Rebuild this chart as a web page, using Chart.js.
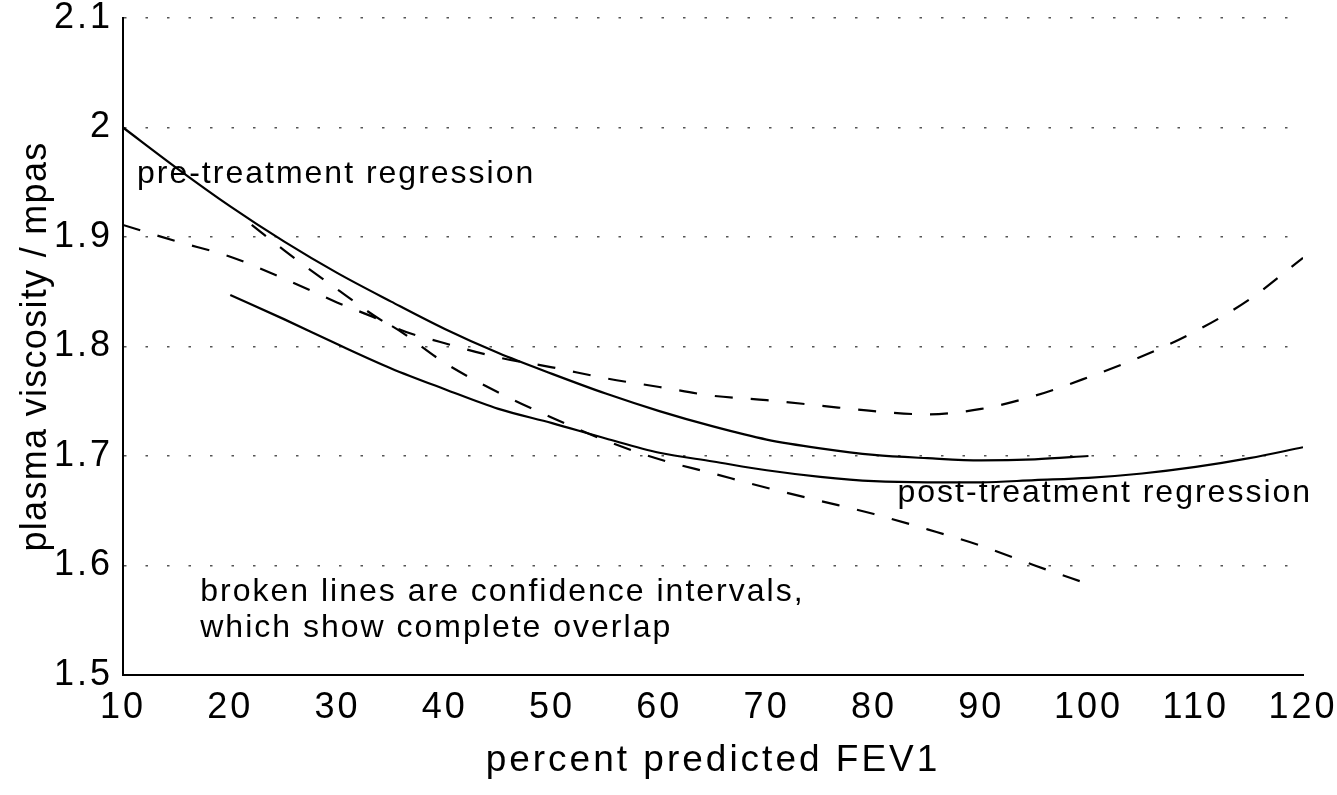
<!DOCTYPE html>
<html>
<head>
<meta charset="utf-8">
<script src="https://cdn.jsdelivr.net/npm/chart.js@4"></script>
<style>
  html, body { margin: 0; padding: 0; background: #fff; }
  #wrap { width: 1337px; height: 795px; position: relative; }
</style>
</head>
<body>
<div id="wrap"><canvas id="chart"></canvas></div>
<script>
// pre-treatment regression (solid) and its lower confidence limit (dashed)
const preX = [10, 15, 20, 25, 30, 35, 40, 45, 50, 55, 60, 65, 70, 75, 80, 85, 90, 95, 100];
const preY = [2.000, 1.963, 1.928, 1.896, 1.867, 1.841, 1.816, 1.794, 1.775, 1.757, 1.741, 1.727, 1.715, 1.707, 1.701, 1.698, 1.696, 1.697, 1.700];
const preLowY = [1.911, 1.896, 1.882, 1.862, 1.840, 1.819, 1.785, 1.758, 1.735, 1.714, 1.697, 1.684, 1.671, 1.659, 1.647, 1.633, 1.618, 1.600, 1.583];

// post-treatment regression (solid) and its upper confidence limit (dashed)
const postX = [20, 25, 30, 35, 40, 45, 50, 55, 60, 65, 70, 75, 80, 85, 90, 95, 100, 105, 110, 115, 120];
const postY = [1.847, 1.825, 1.802, 1.780, 1.761, 1.743, 1.730, 1.716, 1.703, 1.695, 1.687, 1.681, 1.677, 1.676, 1.676, 1.678, 1.680, 1.684, 1.690, 1.698, 1.708];
const postHighX = [22, 25, 30, 35, 40, 45, 50, 55, 60, 65, 70, 75, 80, 85, 90, 95, 100, 105, 110, 115, 120];
const postHighY = [1.911, 1.888, 1.852, 1.819, 1.803, 1.790, 1.781, 1.771, 1.763, 1.755, 1.751, 1.746, 1.741, 1.738, 1.743, 1.755, 1.772, 1.791, 1.814, 1.843, 1.881];

const xTicks = [10, 20, 30, 40, 50, 60, 70, 80, 90, 100, 110, 120];
const yTicks = [1.5, 1.6, 1.7, 1.8, 1.9, 2.0, 2.1];

const yTitle = 'plasma viscosity / mpas';

// text notes placed in data units
const notes = [
  {text: 'pre-treatment regression', x: 11.3, y: 1.957},
  {text: 'post-treatment regression', x: 82.2, y: 1.666},
  {text: 'broken lines are confidence intervals,', x: 17.2, y: 1.576},
  {text: 'which show complete overlap', x: 17.2, y: 1.543}
];

const pts = (xs, ys) => xs.map((x, i) => ({x: x, y: ys[i]}));
const FONT = '"Liberation Sans", Arial, Helvetica, sans-serif';

const line = (label, data, dash) => ({
  label: label,
  data: data,
  borderColor: '#000',
  borderWidth: 2.2,
  borderDash: dash,
  pointRadius: 0,
  fill: false,
  cubicInterpolationMode: 'monotone'
});

// wider tracking for tick labels and the x title
const spacing = {
  id: 'spacing',
  beforeDraw(chart) { chart.ctx.letterSpacing = '3px'; }
};

const textPlugin = {
  id: 'notes',
  afterDatasetsDraw(chart) {
    const {ctx, chartArea, scales: {x, y}} = chart;
    ctx.save();
    ctx.letterSpacing = '2px';
    ctx.font = '32px ' + FONT;
    ctx.fillStyle = '#000';
    ctx.textAlign = 'left';
    ctx.textBaseline = 'middle';
    notes.forEach(n => ctx.fillText(n.text, x.getPixelForValue(n.x), y.getPixelForValue(n.y)));

    // y axis title
    ctx.letterSpacing = '1.3px';
    ctx.font = '36px ' + FONT;
    ctx.textAlign = 'center';
    ctx.translate(36, (chartArea.top + chartArea.bottom) / 2);
    ctx.rotate(-Math.PI / 2);
    ctx.fillText(yTitle, 0, 0);
    ctx.restore();
  }
};

new Chart(document.getElementById('chart'), {
  type: 'line',
  data: {
    datasets: [
      line('pre-treatment', pts(preX, preY), []),
      line('post-treatment', pts(postX, postY), []),
      line('pre lower CI', pts(preX, preLowY), [18, 18]),
      line('post upper CI', pts(postHighX, postHighY), [18, 18])
    ]
  },
  options: {
    responsive: true,
    maintainAspectRatio: false,
    animation: false,
    layout: {padding: {top: 18, right: 34, left: 0, bottom: 0}},
    plugins: {legend: {display: false}, tooltip: {enabled: false}},
    scales: {
      x: {
        type: 'linear', min: 10, max: 120,
        afterBuildTicks: s => { s.ticks = xTicks.map(v => ({value: v})); },
        afterFit: s => { s.height = 120; s.paddingLeft = 0; s.paddingRight = 0; },
        ticks: {color: '#000', padding: 11, font: {family: FONT, size: 36}, maxRotation: 0},
        grid: {display: true, color: 'rgba(0,0,0,0)', drawTicks: false},
        border: {display: true, color: '#000', width: 2},
        title: {display: true, text: 'percent predicted FEV1', color: '#000',
                font: {family: FONT, size: 37}, padding: {top: 0, bottom: 12}}
      },
      y: {
        min: 1.5, max: 2.1,
        afterBuildTicks: s => { s.ticks = yTicks.map(v => ({value: v})); },
        afterFit: s => { s.width = 123; s.paddingTop = 0; s.paddingBottom = 0; },
        ticks: {color: '#000', padding: 10, font: {family: FONT, size: 36},
                callback: v => String(Math.round(v * 10) / 10)},
        grid: {color: '#555', lineWidth: 1.5, drawTicks: false},
        border: {display: true, color: '#000', width: 2, dash: [2.5, 19]}
      }
    }
  },
  plugins: [spacing, textPlugin]
});
</script>
</body>
</html>
